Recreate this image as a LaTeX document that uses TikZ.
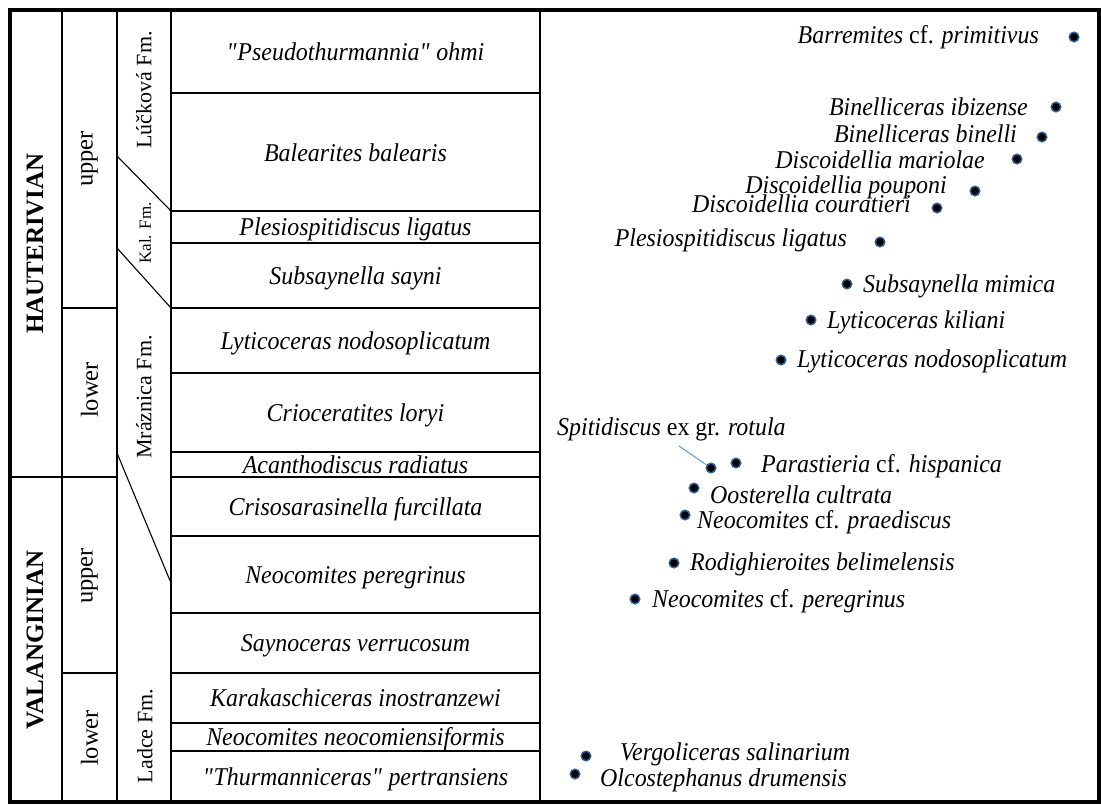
\documentclass[tikz,border=0pt]{standalone}
\usepackage{fontspec}
\setmainfont{Liberation Serif}
\newfontfamily\tallserif[FakeStretch=0.935]{Liberation Serif}
\definecolor{dotblue}{RGB}{45,95,150}
\definecolor{leadblue}{RGB}{95,155,210}
\begin{document}
\begin{tikzpicture}[x=1pt,y=-1pt,
  zone/.style={font=\tallserif\fontsize{25.6}{26}\selectfont\itshape, anchor=base, inner sep=0pt},
  lab/.style={font=\tallserif\fontsize{25.6}{26}\selectfont, inner sep=0pt},
  labl/.style={lab, anchor=base east},
  labr/.style={lab, anchor=base west},
  substage/.style={font=\fontsize{24.5}{25}\selectfont, rotate=90, inner sep=0pt},
  stagelab/.style={font=\fontsize{25}{25}\selectfont\bfseries, rotate=90, inner sep=0pt},
  fmlab/.style={font=\fontsize{22}{22}\selectfont, rotate=90, inner sep=0pt},
  dotmark/.style={circle, fill=black, draw=dotblue, line width=1.5pt, minimum size=9.5pt, inner sep=0pt},
  frameline/.style={line width=3.2pt},
  gridline/.style={line width=1.6pt},
  fmline/.style={line width=1.1pt},
  leader/.style={leadblue, line width=1pt}]
\useasboundingbox (0,0) rectangle (1101,804);
\fill[white] (0,0) rectangle (1101,804);
% vertical column lines
\foreach \x in {62,117,171,540} \draw[gridline] (\x,10) -- (\x,802);
% zone boundaries
\foreach \y in {93,211,243,308,373,452,477,536,613,673,723,751}
  \draw[gridline] (171,\y) -- (540,\y);
% substage and stage boundaries
\draw[gridline] (62,308) -- (117,308);
\draw[gridline] (62,673) -- (117,673);
\draw[gridline] (10,477) -- (117,477);
% formation boundaries
\draw[fmline] (117,156) -- (171,211);
\draw[fmline] (117,248) -- (171,308);
\draw[fmline] (117,453) -- (171,583);
% outer frame
\draw[frameline] (10,10) rectangle (1099,802);

% stages
\node[stagelab] (haut) at (35,243.5) {HAUTERIVIAN};
\node[stagelab] (vala) at (35,640) {VALANGINIAN};
% substages
\node[substage] (hu) at (89.5,159) {upper};
\node[substage] (hl) at (89.5,390) {lower};
\node[substage] (vu) at (89.5,576) {upper};
\node[substage] (vl) at (89.5,738) {lower};
% formations
\node[fmlab] (fl) at (144,90) {Lúčková Fm.};
\node[fmlab, font=\fontsize{17}{17}\selectfont] (fk) at (145,233) {Kal. Fm.};
\node[fmlab] (fmr) at (144,397) {Mráznica Fm.};
\node[fmlab] (fla) at (145,736) {Ladce Fm.};

% zones
\node[zone] (z1) at (355.5,60) {\textquotedbl Pseudothurmannia\textquotedbl\ ohmi};
\node[zone] (z2) at (355.5,161) {Balearites balearis};
\node[zone] (z3) at (355.5,235.5) {Plesiospitidiscus ligatus};
\node[zone] (z4) at (355.5,284) {Subsaynella sayni};
\node[zone] (z5) at (355.5,349) {Lyticoceras nodosoplicatum};
\node[zone] (z6) at (355.5,421) {Crioceratites loryi};
\node[zone] (z7) at (355.5,473) {Acanthodiscus radiatus};
\node[zone] (z8) at (355.5,515) {Crisosarasinella furcillata};
\node[zone] (z9) at (355.5,583) {Neocomites peregrinus};
\node[zone] (z10) at (355.5,651.5) {Saynoceras verrucosum};
\node[zone] (z11) at (355.5,706.5) {Karakaschiceras inostranzewi};
\node[zone] (z12) at (355.5,745.5) {Neocomites neocomiensiformis};
\node[zone] (z13) at (355.5,785) {\textquotedbl Thurmanniceras\textquotedbl\ pertransiens};

% taxa: labels and dots
\node[labl] (t1) at (1039,43) {\textit{Barremites} cf. \textit{primitivus}};
\node[dotmark] (d1) at (1074,37) {};
\node[labl] (t2) at (1028,115) {\textit{Binelliceras ibizense}};
\node[dotmark] (d2) at (1056,107) {};
\node[labl] (t3) at (1017,142) {\textit{Binelliceras binelli}};
\node[dotmark] (d3) at (1042,137) {};
\node[labl] (t4) at (985,168) {\textit{Discoidellia mariolae}};
\node[dotmark] (d4) at (1017,159) {};
\node[labl] (t5) at (947,193) {\textit{Discoidellia pouponi}};
\node[dotmark] (d5) at (975,191) {};
\node[labl] (t6) at (911,212) {\textit{Discoidellia couratieri}};
\node[dotmark] (d6) at (937,208) {};
\node[labl] (t7) at (847,246) {\textit{Plesiospitidiscus ligatus}};
\node[dotmark] (d7) at (880,242) {};
\node[labr] (t8) at (863,292) {\textit{Subsaynella mimica}};
\node[dotmark] (d8) at (847,284) {};
\node[labr] (t9) at (827,328) {\textit{Lyticoceras kiliani}};
\node[dotmark] (d9) at (811,320) {};
\node[labr] (t10) at (797,367) {\textit{Lyticoceras nodosoplicatum}};
\node[dotmark] (d10) at (781,360) {};
\node[labr] (t11) at (557,435) {\textit{Spitidiscus} ex gr. \textit{rotula}};
\node[dotmark] (d11) at (711,468) {};
\node[labr] (t12) at (761,472) {\textit{Parastieria} cf. \textit{hispanica}};
\node[dotmark] (d12) at (736,463) {};
\node[labr] (t13) at (710,503) {\textit{Oosterella cultrata}};
\node[dotmark] (d13) at (694,488) {};
\node[labr] (t14) at (697,528) {\textit{Neocomites} cf. \textit{praediscus}};
\node[dotmark] (d14) at (685,515) {};
\node[labr] (t15) at (690,570) {\textit{Rodighieroites belimelensis}};
\node[dotmark] (d15) at (674,563) {};
\node[labr] (t16) at (652,607) {\textit{Neocomites} cf. \textit{peregrinus}};
\node[dotmark] (d16) at (635,599) {};
\node[labr] (t17) at (620,760) {\textit{Vergoliceras salinarium}};
\node[dotmark] (d17) at (586,756) {};
\node[labr] (t18) at (600,786) {\textit{Olcostephanus drumensis}};
\node[dotmark] (d18) at (575,774) {};

% leader line
\coordinate (lead) at (679,446);
\draw[leader] (lead) -- (d11);
\end{tikzpicture}
\end{document}
